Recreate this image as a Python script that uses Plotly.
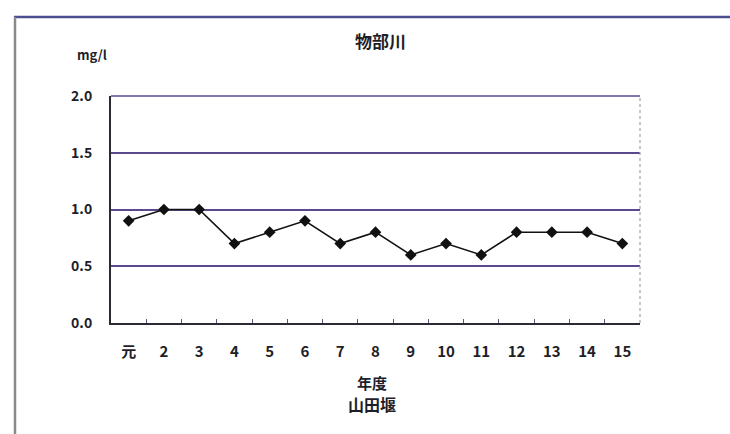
import plotly.graph_objects as go

# Annual mean values at the 山田堰 station on 物部川 (mg/l)
years = ["元", "2", "3", "4", "5", "6", "7", "8", "9", "10", "11", "12", "13", "14", "15"]
values = [0.9, 1.0, 1.0, 0.7, 0.8, 0.9, 0.7, 0.8, 0.6, 0.7, 0.6, 0.8, 0.8, 0.8, 0.7]
y_ticks = [0.0, 0.5, 1.0, 1.5, 2.0]

W, H = 730, 434
L, R, T, B = 111, 90, 96, 111
PW, PH = W - L - R, H - T - B


def px(x):
    return (x - L) / PW


def py(y):
    return (H - B - y) / PH


FONT = "Noto Sans CJK JP, Noto Sans CJK SC, sans-serif"
TXT = "#1e1e28"
GRID = "#5a4a8c"

fig = go.Figure()
fig.add_trace(go.Scatter(
    x=years, y=values, mode="lines+markers",
    line=dict(color="#111111", width=1.6),
    marker=dict(symbol="diamond", size=9, color="#111111"),
    showlegend=False, hoverinfo="x+y",
))

fig.update_layout(
    width=W, height=H,
    margin=dict(l=L, r=R, t=T, b=B),
    paper_bgcolor="white", plot_bgcolor="white",
    font=dict(family=FONT, color=TXT),
    xaxis=dict(
        type="category", categoryorder="array", categoryarray=years,
        range=[-0.5, len(years) - 0.5],
        showgrid=False, zeroline=False,
        showline=True, linecolor="#2a2a33", linewidth=2,
        ticks="inside", tickson="boundaries", ticklen=4, tickcolor="#55557a",
        tickfont=dict(family=FONT, size=15, weight="bold", color=TXT),
        ticklabelstandoff=14,
    ),
    yaxis=dict(
        range=[0, 2.0], tickvals=y_ticks, tickformat=".1f",
        showgrid=True, gridcolor=GRID, gridwidth=1.5,
        zeroline=False, showline=True, linecolor="#2a2a33", linewidth=2,
        ticks="", tickfont=dict(family=FONT, size=14, weight="bold", color=TXT),
        ticklabelstandoff=14,
    ),
    shapes=[
        # outer frame: top and left edges
        dict(type="line", xref="paper", yref="paper", x0=px(14), x1=px(730), y0=py(17), y1=py(17),
             line=dict(color="#4b4f8f", width=2.5)),
        dict(type="line", xref="paper", yref="paper", x0=px(15), x1=px(15), y0=py(17), y1=py(434),
             line=dict(color="#8a8a8a", width=2.5)),
        # top gridline of the value axis (at the top edge of the plot area)
        dict(type="line", xref="paper", yref="paper", x0=0, x1=1, y0=1, y1=1,
             line=dict(color=GRID, width=1.5)),
        # dotted right edge of plot area
        dict(type="line", xref="paper", yref="paper", x0=1, x1=1, y0=0, y1=1,
             line=dict(color="#a0a0b0", width=1.2, dash="dot")),
    ],
    annotations=[
        dict(text="物部川", xref="paper", yref="paper", x=px(380), y=py(41),
             xanchor="center", yanchor="middle", showarrow=False,
             font=dict(family=FONT, size=17, weight="bold", color=TXT)),
        dict(text="mg/l", xref="paper", yref="paper", x=px(92), y=py(55),
             xanchor="center", yanchor="middle", showarrow=False,
             font=dict(family=FONT, size=13, weight="bold", color=TXT)),
        dict(text="年度", xref="paper", yref="paper", x=px(372), y=py(382),
             xanchor="center", yanchor="middle", showarrow=False,
             font=dict(family=FONT, size=15, weight="bold", color=TXT)),
        dict(text="山田堰", xref="paper", yref="paper", x=px(372), y=py(404),
             xanchor="center", yanchor="middle", showarrow=False,
             font=dict(family=FONT, size=16, weight="bold", color=TXT)),
    ],
)

fig.write_html("out.html")
